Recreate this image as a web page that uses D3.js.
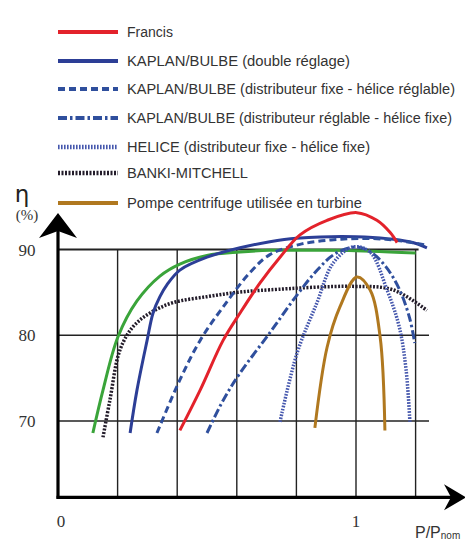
<!DOCTYPE html>
<html>
<head>
<meta charset="utf-8">
<script src="https://cdn.jsdelivr.net/npm/d3@7"></script>
<style>
  html, body { margin: 0; padding: 0; background: #fff; }
  svg { display: block; }
</style>
</head>
<body>
<svg id="chart" width="465" height="542"></svg>
<script>
// Rendement des turbines en fonction de la charge relative P/Pnom
const francis = [[0.409,68.9],[0.477,73.6],[0.554,79.4],[0.611,82.6],[0.678,86.1],[0.745,89.1],[0.812,91.7],[0.903,93.4],[1.003,94.3],[1.07,93.4],[1.114,92.0],[1.138,90.8]];
const kaplanDouble = [[0.242,68.6],[0.265,73.6],[0.299,79.4],[0.319,82.6],[0.342,84.5],[0.366,85.9],[0.409,87.6],[0.5,89.1],[0.611,90.2],[0.711,90.9],[0.8,91.3],[1.0,91.5],[1.18,90.9],[1.238,90.2]];
const kaplanDistFixe = [[0.332,68.6],[0.409,74.8],[0.477,79.4],[0.554,83.3],[0.644,87.3],[0.711,89.4],[0.812,90.6],[0.95,91.2],[1.1,91.2],[1.24,90.5]];
const kaplanHeliceFixe = [[0.5,68.6],[0.554,72.4],[0.611,75.6],[0.711,80.3],[0.8,84.6],[0.87,87.6],[0.93,89.5],[1.0,90.3],[1.05,89.7],[1.1,88.0],[1.145,85.4],[1.18,82.0],[1.197,79.1]];
const helice = [[0.745,69.9],[0.802,77.9],[0.869,83.8],[0.923,88.4],[0.99,90.3],[1.047,89.7],[1.104,85.3],[1.145,81.0],[1.168,76.0],[1.181,69.8]];
const banki = [[0.151,68.1],[0.174,72.4],[0.208,78.3],[0.252,81.0],[0.309,82.6],[0.386,83.8],[0.5,84.5],[0.601,85.0],[0.711,85.3],[0.99,85.7],[1.124,85.3],[1.238,82.9]];
const pompe = [[0.862,69.2],[0.903,78.6],[0.946,83.3],[1.003,86.8],[1.047,85.3],[1.081,79.8],[1.097,68.9]];
const pelton = [[0.117,68.6],[0.151,73.6],[0.201,79.8],[0.265,84.0],[0.342,86.9],[0.409,88.3],[0.5,89.3],[0.611,89.7],[0.711,89.9],[0.9,89.9],[1.05,89.8],[1.2,89.6]];

const yTicks = [70, 80, 90];
const xTickLabels = [0, 1];
const xGrid = [0.2, 0.4, 0.6, 0.8, 1.0, 1.2];

const legendLabels = [
  "Francis",
  "KAPLAN/BULBE (double réglage)",
  "KAPLAN/BULBE (distributeur fixe - hélice réglable)",
  "KAPLAN/BULBE (distributeur réglable - hélice fixe)",
  "HELICE (distributeur fixe - hélice fixe)",
  "BANKI-MITCHELL",
  "Pompe centrifuge utilisée en turbine"
];

const styles = {
  francis:          { color: "#e3222b", width: 3,   dash: null },
  kaplanDouble:     { color: "#2c3e96", width: 3,   dash: null },
  kaplanDistFixe:   { color: "#2f4f9d", width: 3,   dash: "7,4" },
  kaplanHeliceFixe: { color: "#2f4f9d", width: 3,   dash: "9,3,2.5,3" },
  helice:           { color: "#4557ad", width: 3.5, dash: "1.6,1.4" },
  banki:            { color: "#231c2a", width: 3.5, dash: "2,1.5" },
  pompe:            { color: "#b0781f", width: 3,   dash: null },
  pelton:           { color: "#3aa43a", width: 3,   dash: null }
};

const svg = d3.select("#chart");

const x = d3.scaleLinear().domain([0, 1]).range([58, 356]);
const y = d3.scaleLinear().domain([70, 90]).range([421, 249.5]);
const yAxisBottom = 61.1;

const grid = svg.append("g");
// vertical grid lines
grid.selectAll("line.v").data(xGrid).join("line")
  .attr("x1", d => x(d)).attr("x2", d => x(d))
  .attr("y1", y(90)).attr("y2", y(yAxisBottom))
  .attr("stroke", "#222").attr("stroke-width", 1.4);
// horizontal grid lines
grid.selectAll("line.h").data(yTicks).join("line")
  .attr("x1", x(0)).attr("x2", d => d === 90 ? x(1.21) : x(1.245))
  .attr("y1", d => y(d)).attr("y2", d => y(d))
  .attr("stroke", "#222").attr("stroke-width", d => d === 90 ? 2 : 1.4);

// axes
const axes = svg.append("g");
axes.append("line")
  .attr("x1", x(0)).attr("x2", x(0))
  .attr("y1", y(yAxisBottom) + 1.5).attr("y2", 230)
  .attr("stroke", "#000").attr("stroke-width", 3.2);
axes.append("line")
  .attr("x1", x(0) - 1.5).attr("x2", 452)
  .attr("y1", y(yAxisBottom)).attr("y2", y(yAxisBottom))
  .attr("stroke", "#000").attr("stroke-width", 3.2);
// arrowheads
axes.append("path")
  .attr("d", `M${x(0)},213 L${x(0)+19},238 L${x(0)},231 L${x(0)-19},238 Z`)
  .attr("fill", "#000");
const ay = y(yAxisBottom);
axes.append("path")
  .attr("d", `M466,${ay} L444,${ay-13} L451,${ay} L444,${ay+13} Z`)
  .attr("fill", "#000");

// tick labels
svg.selectAll("text.ytick").data(yTicks).join("text")
  .attr("class", "ytick")
  .attr("x", 27).attr("y", d => y(d) + 6)
  .attr("text-anchor", "middle")
  .attr("font-family", "Liberation Serif, serif")
  .attr("font-size", 17).attr("fill", "#333")
  .text(d => d);
svg.selectAll("text.xtick").data(xTickLabels).join("text")
  .attr("class", "xtick")
  .attr("x", d => x(d) + (d === 0 ? 3 : 0)).attr("y", 527)
  .attr("text-anchor", "middle")
  .attr("font-family", "Liberation Serif, serif")
  .attr("font-size", 17).attr("fill", "#333")
  .text(d => d);

// axis titles
svg.append("text").attr("x", 22).attr("y", 202)
  .attr("text-anchor", "middle")
  .attr("font-family", "DejaVu Sans, sans-serif")
  .attr("font-size", 23).attr("fill", "#222").text("η");
svg.append("text").attr("x", 27).attr("y", 220)
  .attr("text-anchor", "middle")
  .attr("font-family", "Liberation Serif, serif")
  .attr("font-size", 15).attr("fill", "#333").text("(%)");
const xt = svg.append("text").attr("x", 415).attr("y", 538)
  .attr("font-family", "Liberation Sans, Arial, sans-serif")
  .attr("font-size", 16).attr("fill", "#333");
xt.append("tspan").text("P/P");
xt.append("tspan").attr("font-size", 10).attr("dy", 1).text("nom");

// curves
const line = d3.line()
  .x(d => x(d[0])).y(d => y(d[1]))
  .curve(d3.curveCatmullRom.alpha(0.5));

const series = [
  ["pelton", pelton],
  ["banki", banki],
  ["kaplanDouble", kaplanDouble],
  ["kaplanDistFixe", kaplanDistFixe],
  ["francis", francis],
  ["kaplanHeliceFixe", kaplanHeliceFixe],
  ["helice", helice],
  ["pompe", pompe]
];
svg.append("g").selectAll("path").data(series).join("path")
  .attr("d", d => line(d[1]))
  .attr("fill", "none")
  .attr("stroke", d => styles[d[0]].color)
  .attr("stroke-width", d => styles[d[0]].width)
  .attr("stroke-dasharray", d => styles[d[0]].dash)
  .attr("stroke-linecap", "butt");

// legend
const legendKeys = ["francis", "kaplanDouble", "kaplanDistFixe", "kaplanHeliceFixe", "helice", "banki", "pompe"];
const legendY = [32, 61, 89, 118, 147, 173, 203];
const legendTextWidth = [46, 223, 328, 325, 243, 121, 235];
const lg = svg.append("g").selectAll("g").data(legendKeys).join("g")
  .attr("transform", (d, i) => `translate(0,${legendY[i]})`);
lg.append("line")
  .attr("x1", 58).attr("x2", 118).attr("y1", 0).attr("y2", 0)
  .attr("stroke", d => styles[d].color)
  .attr("stroke-width", d => styles[d].width + 0.8)
  .attr("stroke-dasharray", d => styles[d].dash);
lg.append("text")
  .attr("x", 127).attr("y", 5)
  .attr("font-family", "Liberation Sans, Arial, sans-serif")
  .attr("font-size", 14).attr("fill", "#333")
  .attr("textLength", (d, i) => legendTextWidth[i])
  .attr("lengthAdjust", "spacingAndGlyphs")
  .text((d, i) => legendLabels[i]);
</script>
</body>
</html>
